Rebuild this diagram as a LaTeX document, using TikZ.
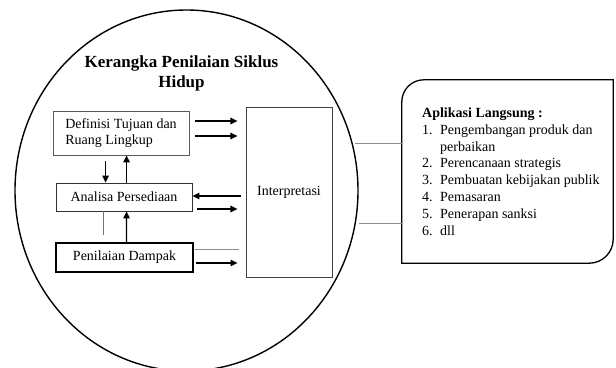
\documentclass[tikz,border=0pt]{standalone}
\usepackage{fontspec}
\setmainfont{Liberation Serif}
\usetikzlibrary{arrows.meta,calc,shapes.geometric}
\begin{document}
\begin{tikzpicture}[x=1pt,y=-1pt,
  txt/.style={font=\fontsize{14}{16.4}\selectfont},
  box/.style={txt,rectangle,draw=black!65,line width=0.9pt,inner sep=0pt},
  arr/.style={-{Triangle[length=7pt,width=6.5pt]},line width=1.3pt},
  thinline/.style={draw=black!45,line width=0.8pt}]
\useasboundingbox (0,0) rectangle (616,367);
% big ellipse
\node[ellipse,draw,line width=1.4pt,minimum width=343pt,minimum height=361pt,inner sep=0pt] (frame) at (186.5,190.5) {};
% title
\node[align=center,font=\fontsize{17}{20}\selectfont\bfseries] (title) at (181.5,73) {Kerangka Penilaian Siklus\\Hidup};
% boxes
\node[box,align=left,minimum width=136pt,minimum height=44pt] (def) at (121,133) {Definisi Tujuan dan\\Ruang Lingkup};
\node[box,draw=black!80,minimum width=136pt,minimum height=28pt] (ana) at (124,197) {Analisa Persediaan};
\node[box,draw=black,line width=1.1pt,minimum width=137pt,minimum height=29pt] (pen) at (124.5,257.5) {Penilaian Dampak};
\node[box,draw=black!75,minimum width=86pt,minimum height=170pt] (int) at (289,192) {Interpretasi};
% arrows between boxes
\draw[arr] ($(def.east)+(6,-12)$) -- ($(def.east)+(48,-12)$);
\draw[arr] ($(def.east)+(6,3)$) -- ($(def.east)+(48,3)$);
\draw[arr] ($(int.west)+(-5,4)$) -- (ana.east |- {$(int.west)+(0,4)$});
\draw[arr] ($(ana.east)+(5,12)$) -- ($(ana.east)+(45,12)$);
\draw[thinline] ($(pen.east)+(1,-8.5)$) -- ($(int.west)+(-7,57)$);
\draw[arr] ($(pen.east)+(2,5.5)$) -- ($(pen.east)+(44,5.5)$);
\draw[arr] ($(def.south west)+(53,6)$) -- ($(ana.north west)+(50,0)$);
\draw[arr] ($(ana.north west)+(71,0)$) -- ($(def.south west)+(74,0)$);
\draw[arr] ($(pen.north west)+(71,0)$) -- ($(ana.south west)+(71,0)$);
\draw[draw=black!55,line width=0.8pt] ($(ana.south west)+(48,0)$) -- ($(ana.south west)+(48,24)$);
% right box
\node[inner sep=0pt,minimum width=211pt,minimum height=183pt] (app) at (507.5,171.5) {};
\draw[line width=1.3pt] (app.south west) -- ($(app.north west)+(0,22)$)
  .. controls ($(app.north west)+(0,9.85)$) and ($(app.north west)+(9.85,0)$) .. ($(app.north west)+(22,0)$)
  -- (app.north east) -- ($(app.south east)+(0,-24)$)
  .. controls ($(app.south east)+(0,-10.75)$) and ($(app.south east)+(-10.75,0)$) .. ($(app.south east)+(-24,0)$)
  -- cycle;
\node[align=left,anchor=north west,inner sep=0pt,font=\fontsize{14}{16.8}\selectfont] (list) at (422,107.5) {\textbf{Aplikasi Langsung :}\\
\makebox[18pt][l]{1.}Pengembangan produk dan\\
\hspace*{18pt}perbaikan\\
\makebox[18pt][l]{2.}Perencanaan strategis\\
\makebox[18pt][l]{3.}Pembuatan kebijakan publik\\
\makebox[18pt][l]{4.}Pemasaran\\
\makebox[18pt][l]{5.}Penerapan sanksi\\
\makebox[18pt][l]{6.}dll};
% connecting lines
\coordinate (c1) at (355,143);
\coordinate (c2) at (359,223);
\draw[thinline] (c1) -- (c1 -| app.west);
\draw[thinline] (c2) -- (c2 -| app.west);
\end{tikzpicture}
\end{document}
